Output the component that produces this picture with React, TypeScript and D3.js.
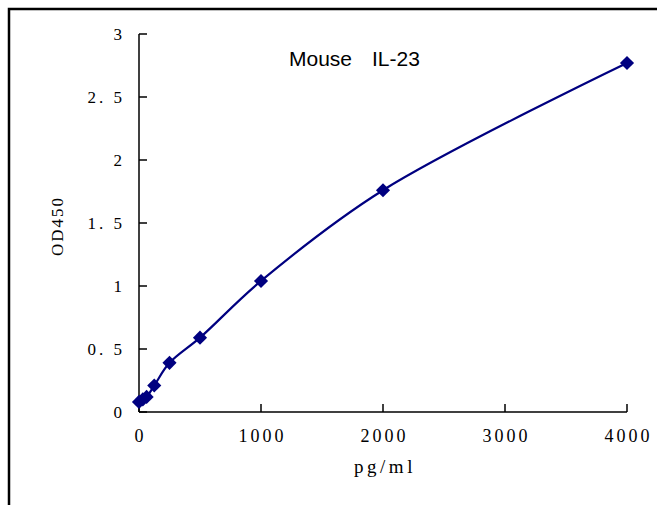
import React from "react";
import * as d3 from "d3";

const concentrations = [0, 31.25, 62.5, 125, 250, 500, 1000, 2000, 4000];
const odValues = [0.08, 0.1, 0.12, 0.21, 0.39, 0.59, 1.04, 1.76, 2.77];
const xTicks = [0, 1000, 2000, 3000, 4000];
const yTicks = [0, 0.5, 1, 1.5, 2, 2.5, 3];
const yTickLabels = ["0", "0. 5", "1", "1. 5", "2", "2. 5", "3"];

function App() {
  const x = d3.scaleLinear().domain([0, 4000]).range([139, 627]);
  const y = d3.scaleLinear().domain([0, 3]).range([412, 34]);

  const data = concentrations.map((c, i) => ({ c, od: odValues[i] }));

  const line = d3
    .line<{ c: number; od: number }>()
    .x((d) => x(d.c))
    .y((d) => y(d.od))
    .curve(d3.curveCatmullRom.alpha(0.5));

  const serif = "'Liberation Serif', 'DejaVu Serif', serif";
  const sans = "'Liberation Sans', Arial, sans-serif";
  const navy = "#000080";

  return (
    <svg
      width={657}
      height={505}
      style={{ position: "absolute", left: 0, top: 0, background: "#fff" }}
    >
      {/* outer frame, runs past the right and bottom edges */}
      <path d="M9,520 V9 H680" fill="none" stroke="#000" strokeWidth={2.5} />

      {/* axes */}
      <line x1={x(0)} x2={x(0)} y1={y(3)} y2={y(0)} stroke="#000" strokeWidth={1.5} />
      <line x1={x(0)} x2={x(4000)} y1={y(0)} y2={y(0)} stroke="#000" strokeWidth={1.5} />

      {yTicks.map((t, i) => (
        <g key={"y" + t}>
          <line x1={x(0)} x2={x(0) + 8} y1={y(t)} y2={y(t)} stroke="#000" strokeWidth={1.5} />
          <text
            x={125}
            y={y(t)}
            dy="0.35em"
            textAnchor="end"
            fontFamily={serif}
            fontSize={17}
            letterSpacing={3}
          >
            {yTickLabels[i]}
          </text>
        </g>
      ))}

      {xTicks.map((t) => (
        <g key={"x" + t}>
          <line x1={x(t)} x2={x(t)} y1={y(0)} y2={y(0) - 8} stroke="#000" strokeWidth={1.5} />
          <text
            x={x(t) + 1.5}
            y={442}
            textAnchor="middle"
            fontFamily={serif}
            fontSize={18}
            letterSpacing={3}
          >
            {t}
          </text>
        </g>
      ))}

      <path d={line(data) ?? ""} fill="none" stroke={navy} strokeWidth={2.2} />

      {data.map((d) => (
        <rect
          key={d.c}
          x={-5}
          y={-5}
          width={10}
          height={10}
          fill={navy}
          transform={`translate(${x(d.c)},${y(d.od)}) rotate(45)`}
        />
      ))}

      <text x={289} y={66} fontFamily={sans} fontSize={21}>
        Mouse
      </text>
      <text x={372} y={66} fontFamily={sans} fontSize={21}>
        IL-23
      </text>

      <text
        transform="translate(63,226) rotate(-90)"
        textAnchor="middle"
        fontFamily={serif}
        fontSize={17}
        letterSpacing={2}
      >
        OD450
      </text>

      <text
        x={385}
        y={473}
        textAnchor="middle"
        fontFamily={serif}
        fontSize={19}
        letterSpacing={3.5}
      >
        pg/ml
      </text>
    </svg>
  );
}

export default App;
